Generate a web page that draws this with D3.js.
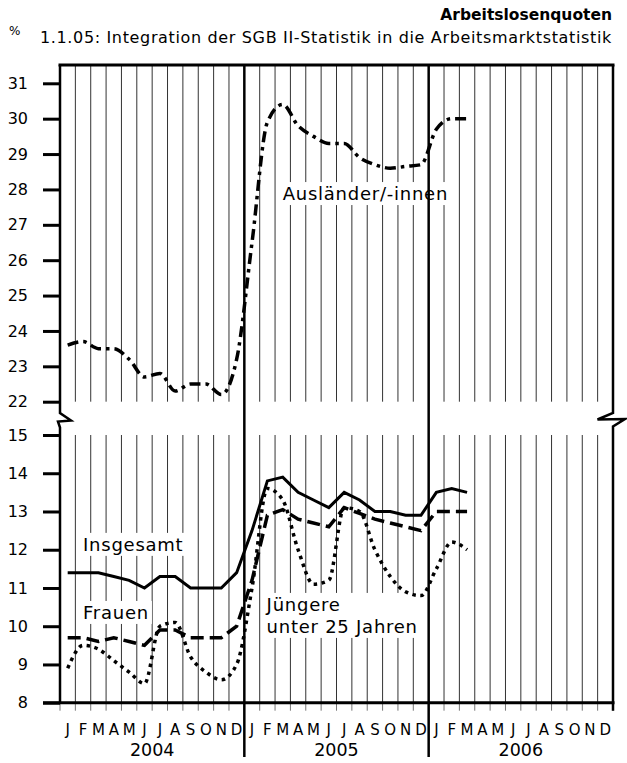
<!DOCTYPE html>
<html>
<head>
<meta charset="utf-8">
<script src="https://cdn.jsdelivr.net/npm/d3@7"></script>
<style>
  body { margin: 0; background: #fff; }
  text { font-family: "DejaVu Sans", sans-serif; fill: #000; }
</style>
</head>
<body>
<script>
// month letters and years on the x axis
var monthLetters = ["J","F","M","A","M","J","J","A","S","O","N","D"];
var years = ["2004","2005","2006"];

// tick labels of both panels
var upperTicks = [22,23,24,25,26,27,28,29,30,31];
var lowerTicks = [8,9,10,11,12,13,14,15];

// rates Jan 2004 .. Mar 2006 (%)
var insgesamt = [11.4,11.4,11.4,11.3,11.2,11.0,11.3,11.3,11.0,11.0,11.0,11.4,
                 12.5,13.8,13.9,13.5,13.3,13.1,13.5,13.3,13.0,13.0,12.9,12.9,
                 13.5,13.6,13.5];
var frauen    = [9.7,9.7,9.6,9.7,9.6,9.5,9.9,9.9,9.7,9.7,9.7,10.0,
                 11.2,12.9,13.05,12.8,12.7,12.6,13.1,12.95,12.8,12.7,12.6,12.5,
                 13.0,13.0,13.0];
var juengere  = [8.9,9.5,9.4,9.1,8.8,8.5,10.0,10.1,9.2,8.8,8.6,9.0,
                 11.0,13.6,13.3,12.0,11.1,11.2,13.1,13.0,12.0,11.3,10.9,10.8,
                 11.5,12.2,12.0];
var auslaender = [23.6,23.7,23.5,23.5,23.2,22.7,22.8,22.3,22.5,22.5,22.2,23.2,
                  26.5,29.9,30.4,29.8,29.5,29.3,29.3,28.9,28.7,28.6,28.65,28.7,
                  29.7,30.0,30.0];

var W = 627, H = 763;
var plotLeft = 60, plotRight = 613, plotTop = 65;
var upperBottom = 401.7, lowerTop = 435, plotBottom = 702.7;
var nMonths = monthLetters.length * years.length;

var svg = d3.select("body").append("svg")
  .attr("width", W).attr("height", H);

var x = d3.scaleLinear().domain([0, nMonths]).range([plotLeft, plotRight]);
var yHi = d3.scaleLinear().domain([22, 31]).range([upperBottom, 83.3]);
var yLo = d3.scaleLinear().domain([8, 15]).range([plotBottom, lowerTop]);

// header
svg.append("text").attr("x", 612).attr("y", 20)
  .attr("text-anchor", "end").style("font-weight", "bold").style("font-size", "15.5px")
  .text("Arbeitslosenquoten");
svg.append("text").attr("x", 612).attr("y", 43)
  .attr("text-anchor", "end").style("font-size", "16px").style("letter-spacing", "0.65px")
  .text("1.1.05: Integration der SGB II-Statistik in die Arbeitsmarktstatistik");
svg.append("text").attr("x", 9).attr("y", 35).style("font-size", "12px").text("%");

// vertical month grid
var inner = d3.range(1, nMonths).filter(function(i) { return i % 12 != 0; });
var grid = svg.append("g").attr("stroke", "#333").attr("stroke-width", 1);
grid.selectAll(".gu").data(inner).enter().append("line")
  .attr("x1", x).attr("x2", x).attr("y1", plotTop).attr("y2", upperBottom);
grid.selectAll(".gl").data(inner).enter().append("line")
  .attr("x1", x).attr("x2", x).attr("y1", lowerTop).attr("y2", plotBottom);
// small ticks under the axis
svg.append("g").attr("stroke", "#777").attr("stroke-width", 1)
  .selectAll("line").data(d3.range(0, nMonths + 1)).enter().append("line")
  .attr("x1", x).attr("x2", x).attr("y1", plotBottom).attr("y2", plotBottom + 8);

// label boxes (white) drawn before the lines
function label(lines, lx, ly, lh) {
  var g = svg.append("g");
  var t = g.append("text").attr("x", lx).attr("y", ly)
    .style("font-size", "18px").style("letter-spacing", "0.75px");
  lines.forEach(function(s, i) {
    t.append("tspan").attr("x", lx).attr("dy", i ? lh : 0).text(s);
  });
  var b = t.node().getBBox();
  g.insert("rect", "text").attr("x", b.x - 3).attr("y", b.y - 1)
    .attr("width", b.width + 6).attr("height", b.height + 2).attr("fill", "#fff");
}
label(["Ausländer/-innen"], x(14.5), yHi(27.7), 0);
label(["Insgesamt"], x(1.5), yLo(11.97), 0);
label(["Frauen"], x(1.5), yLo(10.19), 0);
label(["Jüngere", "unter 25 Jahren"], x(13.45), yLo(10.4), 22);

// year dividers
svg.append("g").selectAll("line").data([12, 24]).enter().append("line")
  .attr("x1", x).attr("x2", x).attr("y1", plotTop).attr("y2", 757)
  .attr("stroke", "#000").attr("stroke-width", 2.5);

// frame with axis breaks
var frame = svg.append("g").attr("fill", "none").attr("stroke", "#000").attr("stroke-width", 3);
frame.append("line").attr("x1", plotLeft - 1.5).attr("x2", plotRight + 1.5)
  .attr("y1", plotTop).attr("y2", plotTop);
frame.append("line").attr("x1", 43).attr("x2", plotRight + 1.5)
  .attr("y1", plotBottom).attr("y2", plotBottom);
frame.append("path").attr("stroke-width", 2.5)
  .attr("d", "M" + plotLeft + "," + plotTop + "V413L71,420.5L58,421.5L60,427.5V" + plotBottom);
frame.append("path").attr("stroke-width", 2.5)
  .attr("d", "M" + plotRight + "," + plotTop + "V413L597.5,419.5L625,419L613,426.5V" + (plotBottom + 8));

// y axes
var axHi = svg.append("g").attr("transform", "translate(" + plotLeft + ",0)")
  .call(d3.axisLeft(yHi).tickValues(upperTicks).tickFormat(d3.format("d")).tickSize(17).tickPadding(15));
var axLo = svg.append("g").attr("transform", "translate(" + plotLeft + ",0)")
  .call(d3.axisLeft(yLo).tickValues(lowerTicks).tickFormat(d3.format("d")).tickSize(17).tickPadding(15));
[axHi, axLo].forEach(function(a) {
  a.select(".domain").remove();
  a.selectAll(".tick line").attr("stroke", "#000").attr("stroke-width", 3);
  a.selectAll(".tick text").style("font-size", "16px")
    .style("font-family", "'DejaVu Sans', sans-serif").attr("fill", "#000");
});

// month and year labels
var ml = [];
years.forEach(function(yr, yi) {
  monthLetters.forEach(function(m, mi) { ml.push({ m: m, i: yi * 12 + mi }); });
});
svg.append("g").selectAll("text").data(ml).enter().append("text")
  .attr("x", function(d) { return x(d.i + 0.5); }).attr("y", 735)
  .attr("text-anchor", "middle").style("font-size", "15px")
  .text(function(d) { return d.m; });
svg.append("g").selectAll("text").data(years).enter().append("text")
  .attr("x", function(d, i) { return x(i * 12 + 6); }).attr("y", 756)
  .attr("text-anchor", "middle").style("font-size", "17.5px")
  .text(function(d) { return d; });

// series
function draw(values, yScale, dash, curve, width) {
  var line = d3.line()
    .x(function(d, i) { return x(i + 0.5); })
    .y(function(d) { return yScale(d); })
    .curve(curve);
  svg.append("path").datum(values)
    .attr("fill", "none").attr("stroke", "#000")
    .attr("stroke-width", width)
    .attr("stroke-dasharray", dash)
    .attr("d", line);
}
draw(insgesamt, yLo, null, d3.curveLinear, 3);
draw(frauen, yLo, "13,6", d3.curveLinear, 3.5);
draw(juengere, yLo, "3.5,4.5", d3.curveMonotoneX, 3.5);
draw(auslaender, yHi, "11,5,3.5,5", d3.curveMonotoneX, 3.5);
</script>
</body>
</html>
